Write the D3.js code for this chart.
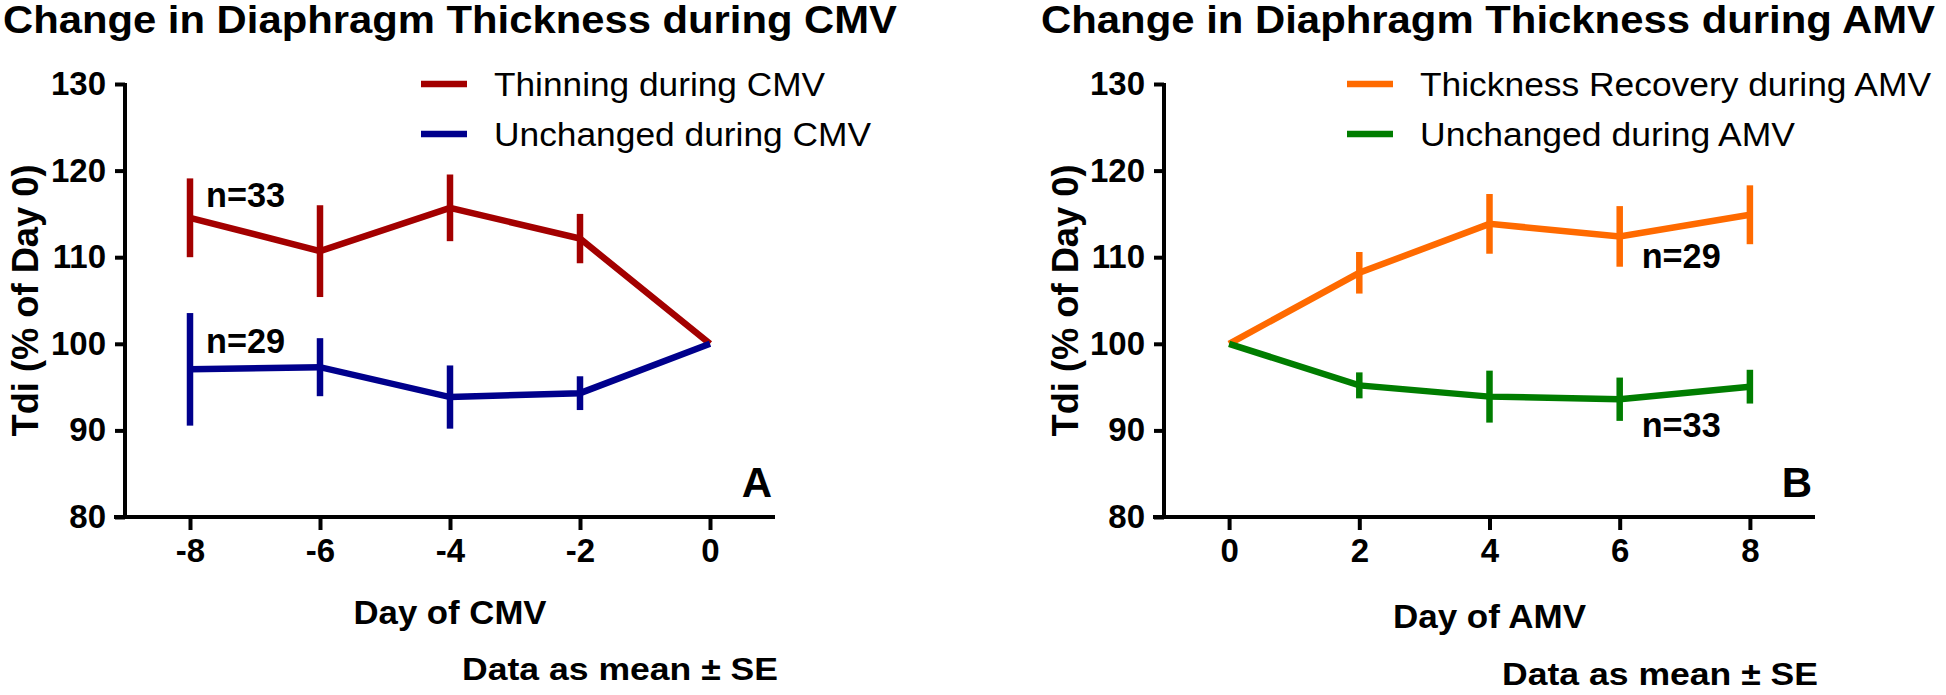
<!DOCTYPE html>
<html>
<head>
<meta charset="utf-8">
<script src="https://cdn.jsdelivr.net/npm/d3@7"></script>
<style>
  html, body { margin: 0; padding: 0; background: #ffffff; }
  svg { display: block; }
  text { font-family: "Liberation Sans", Arial, Helvetica, sans-serif; fill: #000; }
</style>
</head>
<body>
<svg id="chart" width="1946" height="695"></svg>
<script>
// ---------------- DATA ----------------
const yTicks = [80, 90, 100, 110, 120, 130];

const cmvDays = [-8, -6, -4, -2, 0];
const cmvThinMean = [114.55, 110.7, 115.7, 112.15, 100];
const cmvThinSE   = [4.55, 5.3, 3.85, 2.85, 0];
const cmvUnchMean = [97.05, 97.3, 93.85, 94.3, 100];
const cmvUnchSE   = [6.5, 3.35, 3.65, 1.95, 0];

const amvDays = [0, 2, 4, 6, 8];
const amvRecMean  = [100, 108.2, 113.85, 112.4, 114.9];
const amvRecSE    = [0, 2.4, 3.45, 3.5, 3.4];
const amvUnchMean = [100, 95.2, 93.9, 93.6, 95.05];
const amvUnchSE   = [0, 1.5, 3.0, 2.5, 1.95];

const titles = ["Change in Diaphragm Thickness during CMV", "Change in Diaphragm Thickness during AMV"];
const xLabels = ["Day of CMV", "Day of AMV"];
const yLabel = "Tdi (% of Day 0)";
const legendA = ["Thinning during CMV", "Unchanged during CMV"];
const legendB = ["Thickness Recovery during AMV", "Unchanged during AMV"];
const nLabelsA = ["n=33", "n=29"];
const nLabelsB = ["n=29", "n=33"];
const noteText = "Data as mean \u00B1 SE";

// ---------------- DRAW ----------------
const svg = d3.select("#chart");
const FONT = '"Liberation Sans", Arial, Helvetica, sans-serif';
const colors = { thin: "#a30000", unchCMV: "#00008c", rec: "#ff6a00", unchAMV: "#007d00" };

function panel(cfg) {
  const g = svg.append("g");
  const x = d3.scaleLinear().domain(cfg.xDomain).range(cfg.xRange);
  const y = d3.scaleLinear().domain([80, 130]).range([517, 84]);

  // title
  g.append("text").attr("x", cfg.titleX).attr("y", 33)
    .attr("font-size", 38).attr("font-weight", "bold")
    .attr("textLength", 894).attr("lengthAdjust", "spacingAndGlyphs")
    .text(cfg.title);

  // y axis
  const ya = g.append("g").attr("transform", `translate(${cfg.xRange[0]},0)`)
    .call(d3.axisLeft(y).tickValues(yTicks).tickFormat(d => String(d))
      .tickSize(10).tickPadding(9).tickSizeOuter(0));
  ya.attr("font-family", FONT);
  ya.select(".domain").attr("stroke-width", 4).attr("stroke", "#000")
    .attr("d", `M0,${y.range()[1] - 1}V${y.range()[0] + 2}`);
  ya.selectAll(".tick line").attr("stroke-width", 4).attr("stroke", "#000");
  ya.selectAll(".tick text").attr("font-size", 33).attr("font-weight", "bold").attr("fill", "#000");

  // x axis
  const xa = g.append("g").attr("transform", `translate(0,${y.range()[0]})`)
    .call(d3.axisBottom(x).tickValues(cfg.xTicks).tickFormat(d => String(d))
      .tickSize(13).tickPadding(9).tickSizeOuter(0));
  xa.attr("font-family", FONT);
  xa.select(".domain").attr("stroke-width", 4).attr("stroke", "#000")
    .attr("d", `M${x.range()[0] - 11},0H${x.range()[1]}`);
  xa.selectAll(".tick line").attr("stroke-width", 4).attr("stroke", "#000");
  xa.selectAll(".tick text").attr("font-size", 33).attr("font-weight", "bold").attr("fill", "#000");

  // y label
  g.append("text")
    .attr("transform", `translate(${cfg.yLabelX},${(y.range()[0] + y.range()[1]) / 2}) rotate(-90)`)
    .attr("text-anchor", "middle").attr("font-size", 37).attr("font-weight", "bold")
    .attr("textLength", 272).attr("lengthAdjust", "spacingAndGlyphs")
    .text(yLabel);

  // x label
  g.append("text").attr("x", x(cfg.xLabelAt)).attr("y", cfg.xLabelY)
    .attr("text-anchor", "middle").attr("font-size", 34).attr("font-weight", "bold")
    .attr("textLength", 193).attr("lengthAdjust", "spacingAndGlyphs")
    .text(cfg.xLabel);

  // note
  g.append("text").attr("x", x.range()[1] + 3).attr("y", cfg.noteY)
    .attr("text-anchor", "end").attr("font-size", 32).attr("font-weight", "bold")
    .attr("textLength", 316).attr("lengthAdjust", "spacingAndGlyphs")
    .text(noteText);

  // panel letter
  g.append("text").attr("x", x.range()[1] - 3).attr("y", 497)
    .attr("text-anchor", "end").attr("font-size", 42).attr("font-weight", "bold")
    .text(cfg.letter);

  // series
  const line = d3.line().x(d => x(d.day)).y(d => y(d.mean));
  cfg.series.forEach(s => {
    const pts = s.days.map((d, i) => ({ day: d, mean: s.mean[i], se: s.se[i] }));
    g.append("path").datum(pts).attr("d", line)
      .attr("fill", "none").attr("stroke", s.color).attr("stroke-width", 6.5)
      .attr("stroke-linejoin", "miter");
    g.selectAll(null).data(pts.filter(p => p.se > 0)).enter().append("line")
      .attr("x1", d => x(d.day)).attr("x2", d => x(d.day))
      .attr("y1", d => y(d.mean + d.se)).attr("y2", d => y(d.mean - d.se))
      .attr("stroke", s.color).attr("stroke-width", 6.5);
  });

  // legend
  cfg.legend.forEach((lab, i) => {
    const ly = 84 + i * 50;
    g.append("line").attr("x1", cfg.legX).attr("x2", cfg.legX + 46)
      .attr("y1", ly).attr("y2", ly)
      .attr("stroke", cfg.series[i].color).attr("stroke-width", 6.5);
    g.append("text").attr("x", cfg.legX + 73).attr("y", ly + 12)
      .attr("font-size", 34)
      .attr("textLength", cfg.legLen[i]).attr("lengthAdjust", "spacingAndGlyphs")
      .text(lab);
  });

  // n labels
  cfg.nLabels.forEach(nl => {
    g.append("text").attr("x", x(nl.day) + nl.dx).attr("y", y(nl.v))
      .attr("font-size", 35).attr("font-weight", "bold")
      .attr("textLength", 79).attr("lengthAdjust", "spacingAndGlyphs")
      .text(nl.text);
  });
}

panel({
  title: titles[0], titleX: 3,
  xDomain: [-9, 1], xRange: [125, 775], xTicks: cmvDays,
  yLabelX: 38, xLabel: xLabels[0], xLabelAt: -4, xLabelY: 624, noteY: 680,
  letter: "A",
  series: [
    { days: cmvDays, mean: cmvThinMean, se: cmvThinSE, color: colors.thin },
    { days: cmvDays, mean: cmvUnchMean, se: cmvUnchSE, color: colors.unchCMV }
  ],
  legend: legendA, legX: 421, legLen: [331, 377],
  nLabels: [
    { text: nLabelsA[0], day: -8, dx: 16, v: 115.8 },
    { text: nLabelsA[1], day: -8, dx: 16, v: 98.9 }
  ]
});

panel({
  title: titles[1], titleX: 1041,
  xDomain: [-1, 9], xRange: [1164, 1815], xTicks: amvDays,
  yLabelX: 1078, xLabel: xLabels[1], xLabelAt: 4, xLabelY: 628, noteY: 685,
  letter: "B",
  series: [
    { days: amvDays, mean: amvRecMean, se: amvRecSE, color: colors.rec },
    { days: amvDays, mean: amvUnchMean, se: amvUnchSE, color: colors.unchAMV }
  ],
  legend: legendB, legX: 1347, legLen: [511, 375],
  nLabels: [
    { text: nLabelsB[0], day: 6, dx: 22, v: 108.7 },
    { text: nLabelsB[1], day: 6, dx: 22, v: 89.2 }
  ]
});
</script>
</body>
</html>
